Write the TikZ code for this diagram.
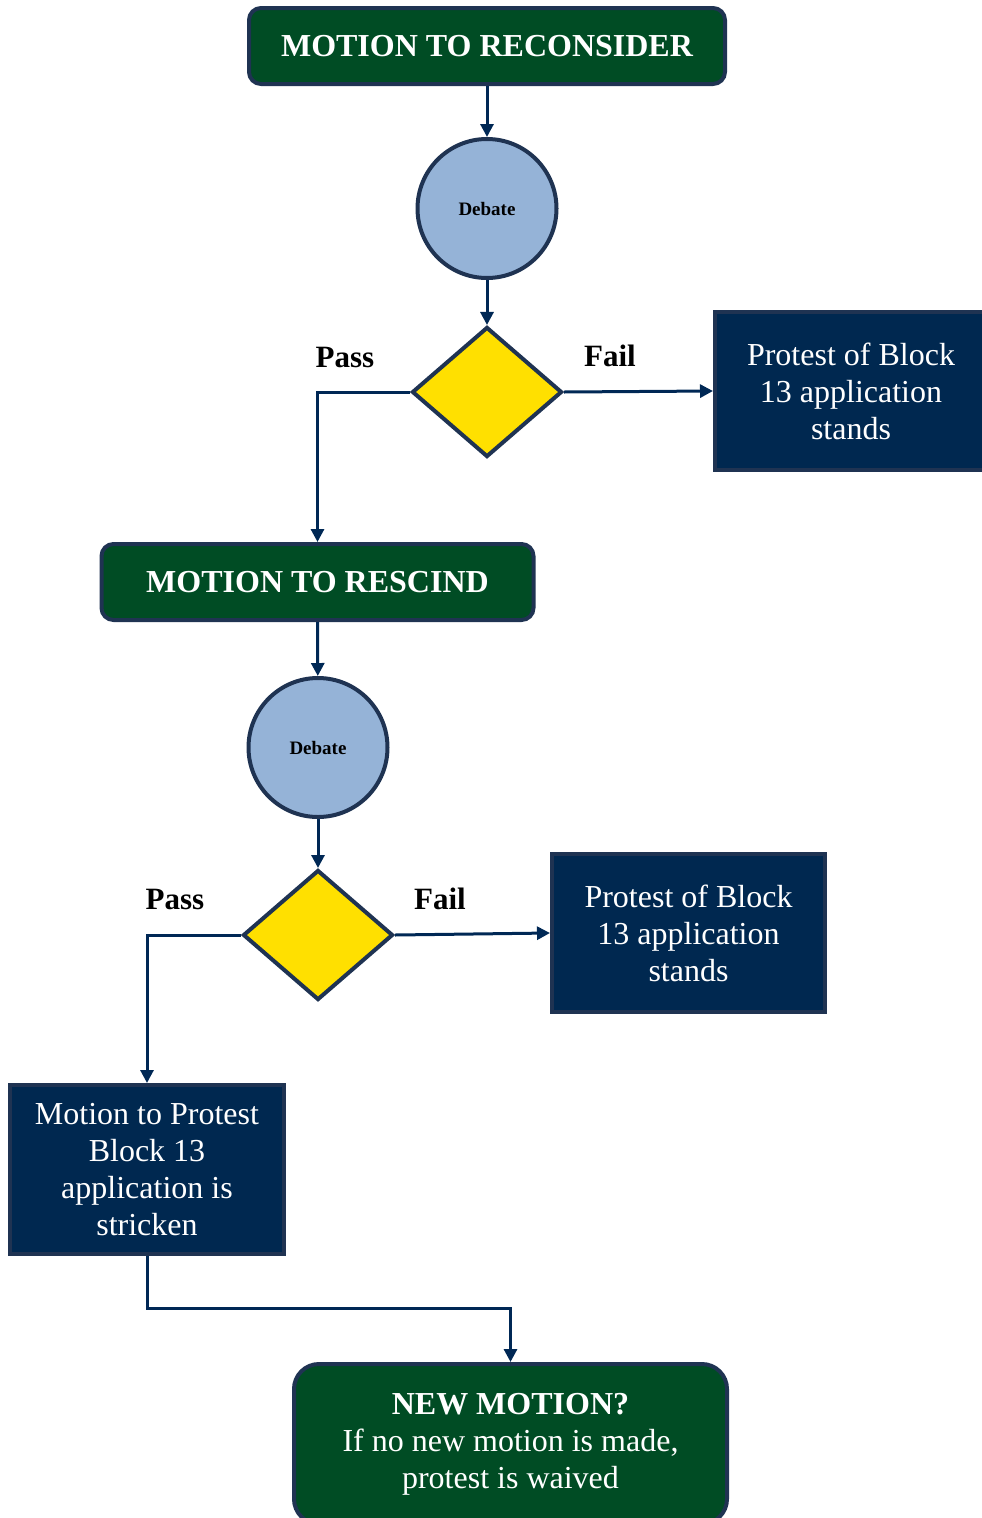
\documentclass[tikz,border=0pt]{standalone}
\usepackage{fontspec}
\setmainfont{Liberation Serif}
\usetikzlibrary{shapes.geometric,arrows.meta}
\definecolor{gfill}{RGB}{0,76,36}
\definecolor{nfill}{RGB}{0,40,80}
\definecolor{bord}{RGB}{31,51,82}
\definecolor{lcol}{RGB}{0,40,85}
\definecolor{cfill}{RGB}{149,179,215}
\definecolor{yfill}{RGB}{255,224,0}
\tikzset{
  gbox/.style={draw=bord, line width=4pt, fill=gfill, rounded corners=12pt, text=white,
     font=\fontsize{32}{37}\selectfont\bfseries, inner sep=0pt, align=center},
  nbox/.style={draw=bord, line width=4pt, fill=nfill, text=white,
     font=\fontsize{32}{37}\selectfont, inner sep=0pt, align=center},
  debc/.style={circle, draw=bord, line width=4pt, fill=cfill, minimum size=139pt, inner sep=0pt,
     font=\fontsize{19}{22}\selectfont\bfseries},
  dec/.style={diamond, draw=bord, line width=4pt, fill=yfill, minimum width=150pt, minimum height=130pt, inner sep=0pt},
  conn/.style={draw=lcol, line width=3pt, -{Triangle[length=13pt,width=13pt]}},
  plain/.style={draw=lcol, line width=3pt},
  lbl/.style={font=\fontsize{31}{36}\selectfont\bfseries, text=black}
}
\begin{document}
\begin{tikzpicture}[x=1pt,y=-1pt]
\useasboundingbox (0,0) rectangle (982,1518);
\clip (0,0) rectangle (982,1518);
\node[gbox, minimum width=476pt, minimum height=76pt] (m1) at (487,46) {MOTION TO RECONSIDER};
\node[debc] (c1) at (487,208.5) {Debate};
\node[dec] (d1) at (487,392) {};
\node[nbox, minimum width=272pt, minimum height=158pt] (p1) at (851,391) {Protest of Block\\13 application\\stands};
\node[gbox, minimum width=432pt, minimum height=76pt] (m2) at (317.5,582) {MOTION TO RESCIND};
\node[debc] (c2) at (318,747.5) {Debate};
\node[dec] (d2) at (318,935) {};
\node[nbox, minimum width=273pt, minimum height=158pt] (p2) at (688.5,933) {Protest of Block\\13 application\\stands};
\node[nbox, minimum width=274pt, minimum height=169pt] (s3) at (147,1169.5) {Motion to Protest\\Block 13\\application is\\stricken};
\node[gbox, rounded corners=25pt, minimum width=433pt, minimum height=160pt] (nm) at (510.5,1444) {NEW MOTION?\\\mdseries If no new motion is made,\\\mdseries protest is waived};
\node[lbl] (pass1) at (345,357) {Pass};
\node[lbl] (fail1) at (610,356) {Fail};
\node[lbl] (pass2) at (175,899) {Pass};
\node[lbl] (fail2) at (440,899) {Fail};
\coordinate (k1) at (147,1308);
\draw[conn] (m1) -- (c1);
\draw[conn] (c1) -- (d1);
\draw[conn] (d1.east) -- (p1.west);
\draw[conn] (d1.west) -| (m2.north);
\draw[conn] (m2) -- (c2);
\draw[conn] (c2) -- (d2);
\draw[conn] (d2.east) -- (p2.west);
\draw[conn] (d2.west) -| (s3.north);
\draw[conn] (s3.south) -- (k1) -| (nm.north);
\end{tikzpicture}
\end{document}
